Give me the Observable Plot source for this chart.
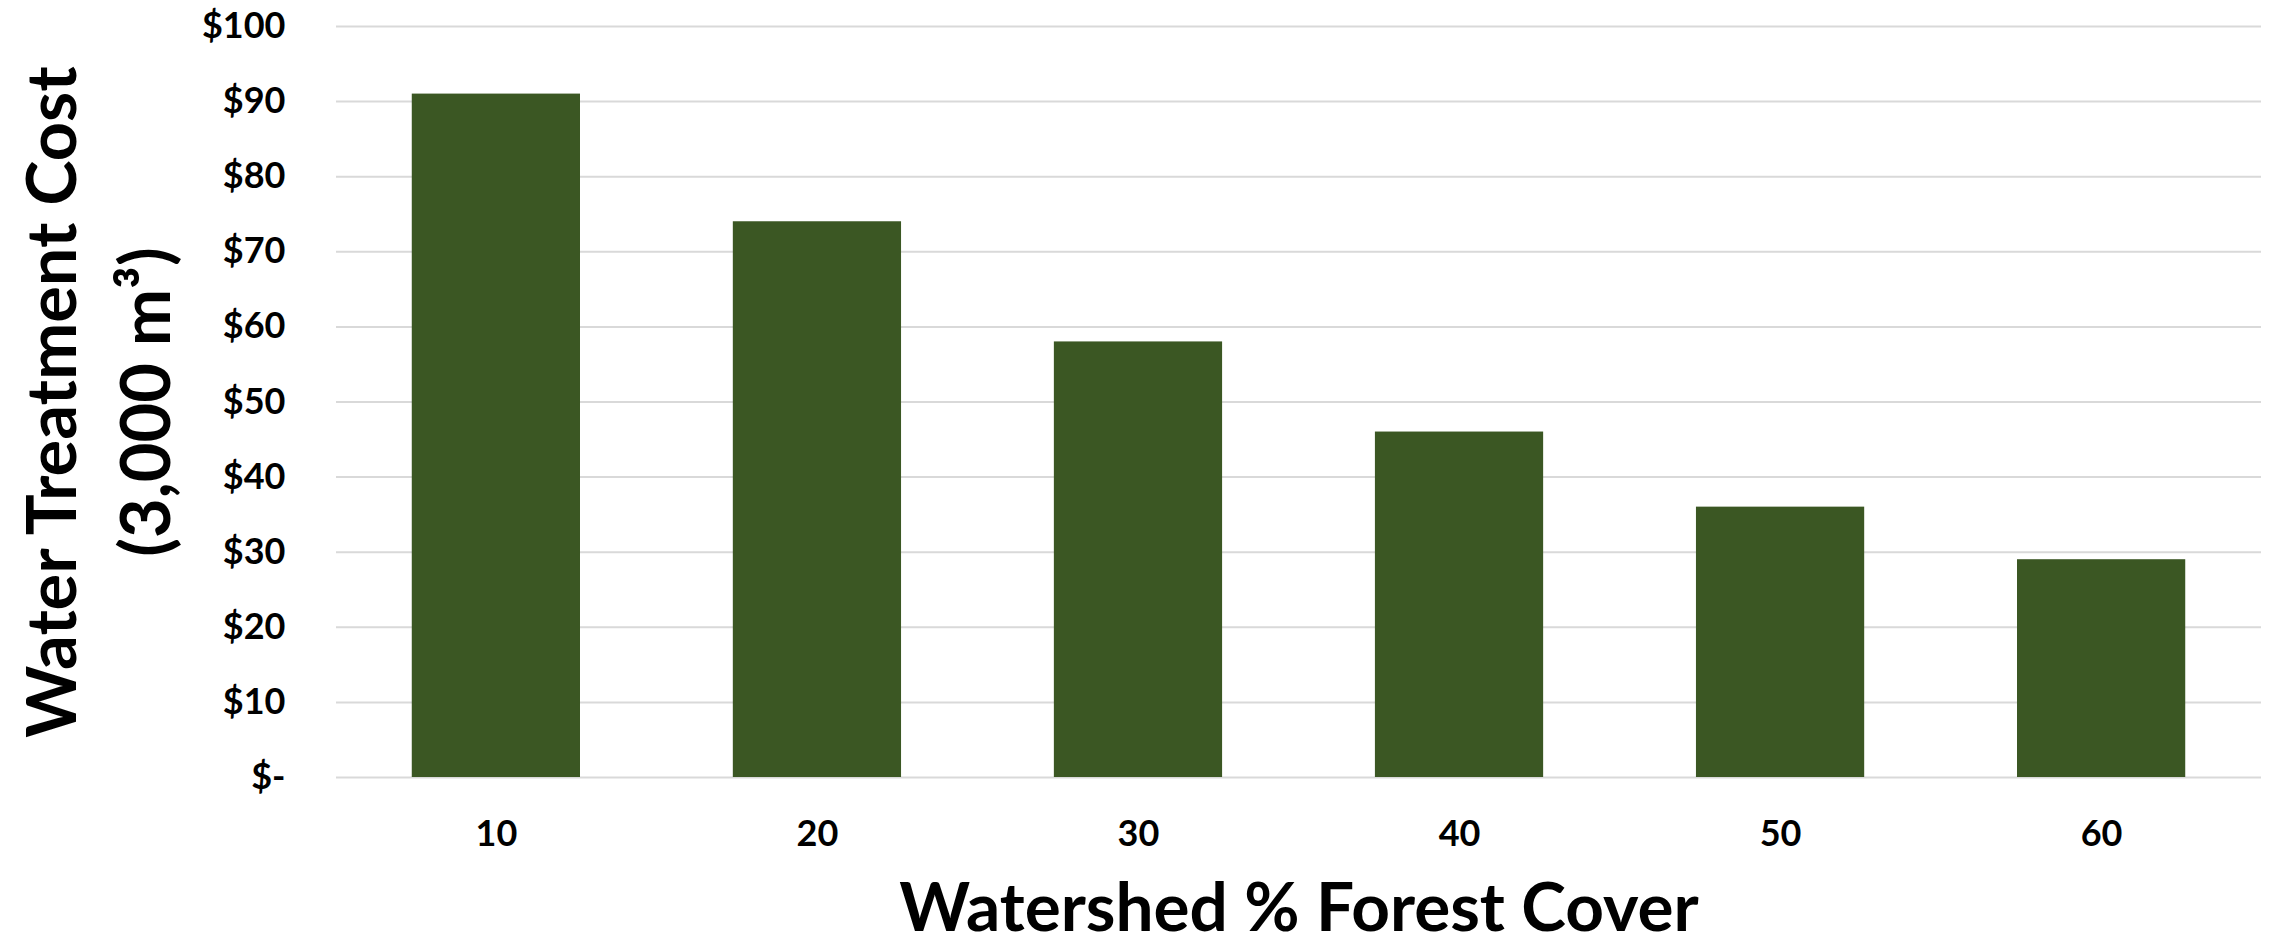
<!DOCTYPE html>
<html><head><meta charset="utf-8">
<script src="https://cdn.jsdelivr.net/npm/d3@7"></script>
<script src="https://cdn.jsdelivr.net/npm/@observablehq/plot@0.6"></script>
<style>html,body{margin:0;padding:0;background:#fff} svg{display:block}</style>
</head><body><div id="chart"></div>
<script>
const forestCover = ["10", "20", "30", "40", "50", "60"];
const treatmentCost = [91, 74, 58, 46, 36, 29];
const yTickValues = [0, 10, 20, 30, 40, 50, 60, 70, 80, 90, 100];
const yTickLabels = ["$-", "$10", "$20", "$30", "$40", "$50", "$60", "$70", "$80", "$90", "$100"];
const xTitle = "Watershed % Forest Cover";
const yTitleLines = ["Water Treatment Cost", "(3,000 m³)"];

const data = forestCover.map((c, i) => ({cover: c, cost: treatmentCost[i]}));
const font = "Lato, 'Open Sans', sans-serif";

const chart = Plot.plot({
  width: 2270, height: 941,
  marginLeft: 336, marginRight: 9, marginTop: 26, marginBottom: 164,
  style: {fontFamily: font, fontWeight: 700, color: "#000", background: "#fff"},
  x: {type: "band", domain: forestCover, paddingInner: 0.476, paddingOuter: 0.236, round: false},
  y: {domain: [0, 100]},
  marks: [
    Plot.gridY(yTickValues, {stroke: "#d9d9d9", strokeOpacity: 1, strokeWidth: 2}),
    Plot.barY(data, {x: "cover", y: "cost", fill: "#3b5723"}),
    Plot.axisX({tickSize: 0, tickPadding: 43, fontSize: 36, fontWeight: 700, label: null}),
    Plot.axisY(yTickValues, {tickSize: 0, tickPadding: 51, fontSize: 36, fontWeight: 700, label: null,
      tickFormat: d => yTickLabels[yTickValues.indexOf(d)]}),
    Plot.text([xTitle], {frameAnchor: "bottom", dy: 132, fontSize: 67.5, fontWeight: 700, lineAnchor: "middle", fill: "#000"}),
    Plot.text([yTitleLines.join("\n")], {frameAnchor: "left", textAnchor: "middle", rotate: -90, dx: -244, fontSize: 68.5, fontWeight: 700, lineHeight: 1.38, lineAnchor: "middle", fill: "#000"})
  ]
});
document.getElementById("chart").append(chart);
</script>
</body></html>
